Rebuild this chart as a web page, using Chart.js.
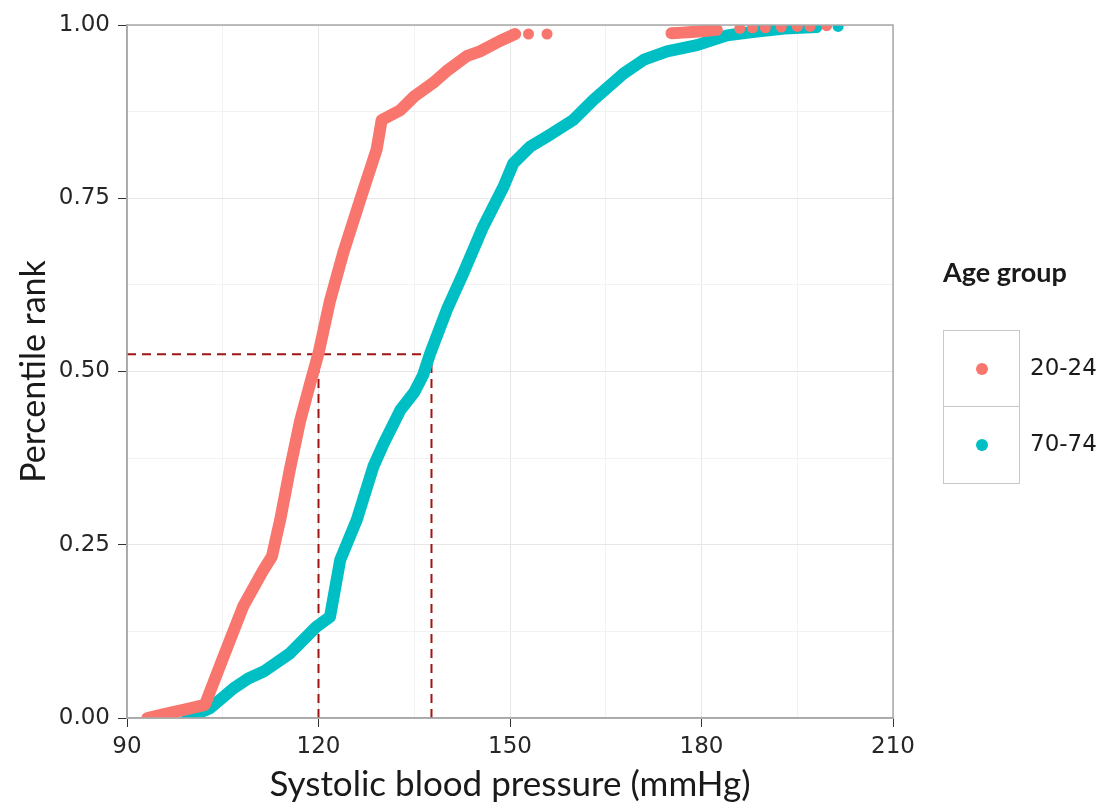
<!DOCTYPE html>
<html>
<head>
<meta charset="utf-8">
<script src="https://cdn.jsdelivr.net/npm/chart.js@4/dist/chart.umd.min.js"></script>
<style>
  body { margin: 0; background: #fff; }
  #wrap { position: relative; width: 1102px; height: 803px; }
  #legend { position: absolute; left: 943px; top: 255px; font-family: "DejaVu Sans", sans-serif; color: #1a1a1a; }
  #legend .ttl { font-family: Lato, sans-serif; font-weight: bold; font-size: 27px; height: 32px; margin-bottom: 43px; }
  #legend .row { position: relative; width: 77px; height: 77px; border: 1.5px solid #c8c8c8; box-sizing: border-box; }
  #legend .row + .row { border-top: none; height: 77px; }
  #legend .dot { position: absolute; left: 32px; top: 32px; width: 12px; height: 12px; border-radius: 50%; }
  #legend .lab { position: absolute; left: 86px; top: 23px; font-size: 23px; white-space: nowrap; }
</style>
</head>
<body>
<div id="wrap">
  <canvas id="chart"></canvas>
  <div id="legend">
    <div class="ttl">Age group</div>
    <div class="row"><span class="dot" style="background:#F8766D"></span><span class="lab">20-24</span></div>
    <div class="row"><span class="dot" style="background:#00BFC4"></span><span class="lab">70-74</span></div>
  </div>
</div>
<script>
const groups = ['20-24', '70-74'];

// ECDF of systolic blood pressure
const bpYoung = [93.2, 96, 99, 102.2, 105.1, 108.2, 111.4, 112.7, 114, 115.5, 117.1, 118.9, 120, 121.8, 123.9, 126.5, 129.1, 129.9, 132.8, 135, 137.9, 140, 143.2, 145.3, 148.4, 150.8];
const rankYoung = [0, 0.006, 0.012, 0.019, 0.088, 0.161, 0.214, 0.233, 0.286, 0.358, 0.428, 0.49, 0.526, 0.602, 0.672, 0.747, 0.82, 0.863, 0.877, 0.897, 0.916, 0.933, 0.955, 0.962, 0.977, 0.987];
const bpYoungTail = [175.3, 177, 178.5, 180, 182.4];
const rankYoungTail = [0.988, 0.989, 0.99, 0.991, 0.993];
const bpYoungDots = [152.9, 155.8, 186, 188, 190, 192.5, 195, 197, 199.6];
const rankYoungDots = [0.987, 0.987, 0.995, 0.996, 0.996, 0.997, 0.998, 0.998, 0.999];

const bpOld = [99.4, 103, 106.7, 109, 111.4, 115.5, 119.7, 121.8, 123.4, 126, 128.6, 130.2, 132.8, 135, 136.4, 137.5, 140.1, 142.7, 145.8, 149, 150.5, 153.1, 156.5, 159.9, 163.1, 167.8, 171, 174.6, 179.3, 184, 188, 193, 198];
const rankOld = [0, 0.014, 0.043, 0.057, 0.067, 0.093, 0.132, 0.146, 0.228, 0.286, 0.363, 0.396, 0.444, 0.47, 0.495, 0.526, 0.589, 0.642, 0.709, 0.767, 0.80, 0.824, 0.843, 0.863, 0.892, 0.93, 0.95, 0.962, 0.971, 0.985, 0.99, 0.995, 0.997];
const bpOldDots = [201.4];
const rankOldDots = [0.998];

// median guide lines
const medianRank = 0.525;
const medianYoung = 120;
const medianOld = 137.7;

const xTicks = [90, 120, 150, 180, 210];
const yTicks = [0, 0.25, 0.5, 0.75, 1];

const red = '#F8766D';
const teal = '#00BFC4';
const guide = '#A01414';

function pts(xs, ys) { return xs.map((x, i) => ({ x: x, y: ys[i] })); }

function curve(xs, ys, color) {
  return { data: pts(xs, ys), showLine: true, borderColor: color, backgroundColor: color,
    borderWidth: 12, pointRadius: 0, borderCapStyle: 'round', borderJoinStyle: 'round' };
}
function dots(xs, ys, color) {
  return { data: pts(xs, ys), showLine: false, pointRadius: 5.5, pointBorderWidth: 0,
    backgroundColor: color, borderColor: color };
}
function dashed(a, b) {
  return { data: [a, b], showLine: true, borderColor: guide, borderWidth: 2,
    borderDash: [9, 6], pointRadius: 0 };
}

const frame = {
  id: 'frame',
  afterDraw(chart) {
    const a = chart.chartArea, c = chart.ctx;
    c.save();
    c.strokeStyle = '#a8a8a8';
    c.lineWidth = 1.5;
    c.strokeRect(a.left, a.top, a.right - a.left, a.bottom - a.top);
    c.restore();
  }
};

new Chart(document.getElementById('chart'), {
  type: 'scatter',
  data: {
    datasets: [
      curve(bpYoung, rankYoung, red),
      curve(bpYoungTail, rankYoungTail, red),
      dots(bpYoungDots, rankYoungDots, red),
      curve(bpOld, rankOld, teal),
      dots(bpOldDots, rankOldDots, teal),
      dashed({ x: 90, y: medianRank }, { x: medianOld, y: medianRank }),
      dashed({ x: medianYoung, y: 0 }, { x: medianYoung, y: medianRank }),
      dashed({ x: medianOld, y: 0 }, { x: medianOld, y: medianRank })
    ]
  },
  options: {
    responsive: true,
    maintainAspectRatio: false,
    animation: false,
    layout: { padding: { top: 25, right: 209, left: 10, bottom: 0 } },
    plugins: { legend: { display: false }, tooltip: { enabled: false } },
    scales: {
      x: {
        type: 'linear', min: 90, max: 210,
        afterFit: s => { s.height = 85; },
        ticks: {
          stepSize: 15, autoSkip: false, maxRotation: 0, color: '#262626', padding: 6,
          font: { family: 'DejaVu Sans', size: 23 },
          callback: v => xTicks.includes(v) ? String(v) : ''
        },
        grid: {
          color: c => xTicks.includes(c.tick.value) ? '#e6e6e6' : '#f2f2f2',
          tickColor: c => xTicks.includes(c.tick.value) ? '#333' : 'rgba(0,0,0,0)',
          tickLength: 9
        },
        border: { color: '#a8a8a8', width: 1.5 },
        title: { display: true, text: 'Systolic blood pressure (mmHg)', color: '#1a1a1a',
          font: { family: 'Lato', size: 35, lineHeight: 1.05 }, padding: { top: 0, bottom: 0 } }
      },
      y: {
        type: 'linear', min: 0, max: 1,
        afterFit: s => { s.width = 117; },
        ticks: {
          stepSize: 0.125, autoSkip: false, color: '#262626', padding: 8,
          font: { family: 'DejaVu Sans', size: 23 },
          callback: v => yTicks.includes(v) ? v.toFixed(2) : ''
        },
        grid: {
          color: c => yTicks.includes(c.tick.value) ? '#e6e6e6' : '#f2f2f2',
          tickColor: c => yTicks.includes(c.tick.value) ? '#333' : 'rgba(0,0,0,0)',
          tickLength: 9
        },
        border: { color: '#a8a8a8', width: 1.5 },
        title: { display: true, text: 'Percentile rank', color: '#1a1a1a',
          font: { family: 'Lato', size: 34 }, padding: { bottom: 4 } }
      }
    }
  },
  plugins: [frame]
});
</script>
</body>
</html>
